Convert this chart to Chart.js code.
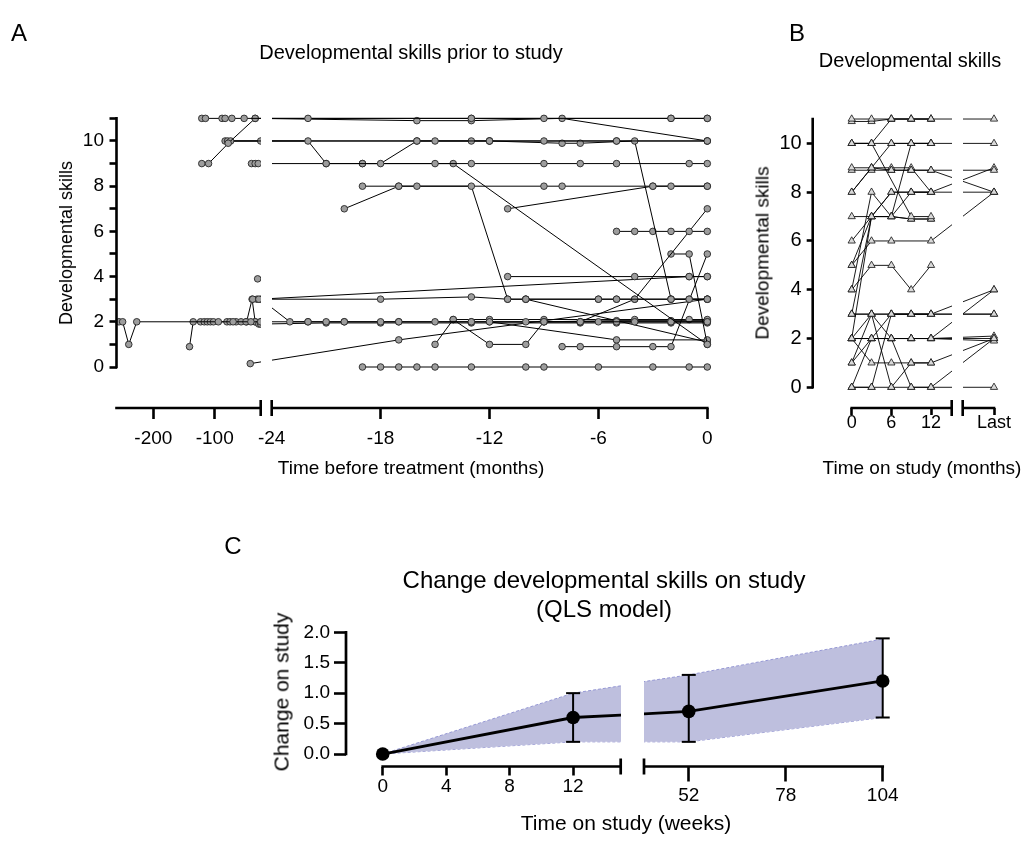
<!DOCTYPE html>
<html>
<head>
<meta charset="utf-8">
<script src="https://cdn.jsdelivr.net/npm/chart.js"></script>
<style>
  body { margin: 0; background: #fff; }
  #fig { position: relative; width: 1029px; height: 843px; overflow: hidden;
         font-family: 'Liberation Sans', Arial, sans-serif; color: #000; }
  #fig canvas { position: absolute; left: 0; top: 0; }
  .t { position: absolute; white-space: nowrap; line-height: 1; transform: translate(-50%, -50%); }
  .v { transform: translate(-50%, -50%) rotate(-90deg); }
</style>
</head>
<body>
<div id="fig">
  <canvas id="chartA" width="1029" height="843"></canvas>
  <canvas id="chartB" width="1029" height="843"></canvas>
  <canvas id="chartC" width="1029" height="843"></canvas>

  <div class="t" style="left:19px;top:33px;font-size:24px">A</div>
  <div class="t" style="left:411px;top:52px;font-size:20px">Developmental skills prior to study</div>
  <div class="t v" style="left:66px;top:243px;font-size:18px">Developmental skills</div>
  <div class="t" style="left:411px;top:467px;font-size:19px">Time before treatment (months)</div>

  <div class="t" style="left:797px;top:33px;font-size:24px">B</div>
  <div class="t" style="left:910px;top:60px;font-size:20px">Developmental skills</div>
  <div class="t v" style="left:762px;top:253px;font-size:19px">Developmental skills</div>
  <div class="t" style="left:922px;top:467px;font-size:19px">Time on study (months)</div>

  <div class="t" style="left:233px;top:546px;font-size:24px">C</div>
  <div class="t" style="left:604px;top:580px;font-size:24px">Change developmental skills on study</div>
  <div class="t" style="left:604px;top:609px;font-size:24px">(QLS model)</div>
  <div class="t v" style="left:281px;top:692px;font-size:21px">Change on study</div>
  <div class="t" style="left:626px;top:822px;font-size:21px">Time on study (weeks)</div>
</div>

<script>
// ---- Panel A: skills before treatment, one row per patient (months, skill) ----
const priorMonths = [
  [-121, -115, -88, -83, -72, -52, -22, -13, -9, -2, 0],
  [-78, -34, -16, -13, -8, 0],
  [-34, -13, -2, 0],
  [-121, -110, -74, -22, -21, -18, -16, -15, -12, -9, -5, 0],
  [-79, -25, -13, -12, -8, -7, -4, -2, -1, 0],
  [-83, -16, -12, -5, 0],
  [-40, -34, -29, -21, -19, -15, -13, -9, -7, -5, -1, 0],
  [-19, -14, 0],
  [-19, -17, -16, -13, -11, -10, -6, -5, -2, 0],
  [-20, -17, -9, -8, -3, -2, 0],
  [-11, -3, 0],
  [-5, -4, -3, -2, -1, 0],
  [-9, -7, -4, 0],
  [-2, -1, 0],
  [-8, -7, -5, -3, -2, 0],
  [-11, -4, -1, 0],
  [-38, -28, -1, 0],
  [-31, -18, -13, -11, -10, -6, -5, -4, -2, -1, 0],
  [-25, -23, -22, -21, -20, -18, -17, -15, -13, -12, -10, -9, -7, -6, -4, -2, 0],
  [-256, -250, -240, -227, -94, -70, -41, -25, -22, -20, -17, -13, -7, -5, -2, 0],
  [-141, -135, -123, -117, -112, -107, -102, -80, -75, -65, -57, -49, -34, -28, -25, -21, -18, -13, -7, -5, -2, 0],
  [-48, -39, -34, -25],
  [-30],
  [-42, -17, 0],
  [-19, -18, -17, -16, -15, -13, -10, -9, -6, -3, -1, 0],
  [-15, -14, -12, -9, -4, -1, 0],
  [-14, -12, -10, -9, -5, -2, 0],
  [-12, -5, 0],
  [-10, 0]
];
const priorSkills = [
  [11, 11, 11, 11, 11, 11, 11, 11, 11, 11, 11],
  [9.9, 11, 10.9, 10.9, 11, 10],
  [11, 11, 11, 11],
  [9, 9, 10, 10, 9, 9, 10, 10, 10, 10, 10, 10],
  [10, 10, 10, 10, 9.9, 9.9, 10, 3, 3, 3],
  [10, 10, 10, 10, 10],
  [9, 9, 9, 9, 9, 9, 9, 9, 9, 9, 9, 9],
  [9, 9, 1],
  [8, 8, 8, 8, 3, 3, 3, 3, 3, 3],
  [7, 8, 8, 8, 8, 8, 8],
  [7, 8, 8],
  [6, 6, 6, 6, 6, 6],
  [2, 2, 3, 7],
  [5, 5, 1],
  [0.9, 0.9, 0.9, 0.9, 0.9, 5],
  [4, 4, 4, 4],
  [3, 3, 4, 4],
  [3, 3, 3.1, 3, 3, 3, 3, 3, 3, 3, 3],
  [3, 2, 2, 2, 2, 2, 2, 2, 2, 2, 2, 2, 2, 2, 2, 2, 2],
  [2, 2, 1, 2, 2, 2, 2, 2, 2, 2, 2, 2, 2, 2, 2, 2],
  [0.9, 2, 2, 2, 2, 2, 2, 2, 2, 2, 2, 2, 2, 1.9, 1.9, 1.95, 1.95, 1.95, 1.95, 1.95, 1.95, 1.95],
  [2, 3, 2, 2],
  [3.9],
  [0.15, 1.2, 3],
  [0, 0, 0, 0, 0, 0, 0, 0, 0, 0, 0, 0],
  [1, 2.1, 2.1, 2.1, 2.1, 2.1, 2.1],
  [2.1, 1, 1, 2, 2.05, 2.05, 2.05],
  [2, 1.2, 1.2],
  [3, 1.1]
];
const priorTicks = [-200, -100, -24, -18, -12, -6, 0];
const skillTicks = [0, 1, 2, 3, 4, 5, 6, 7, 8, 9, 10, 11];

// ---- Panel B: skills on study (visits at 0, 3, 6, 9, 12 months and last visit) ----
const LAST = 24; // axis position of the "Last" visit column
const studyMonths = [0, 3, 6, 9, 12, LAST];
const studySkills = [
  [11, 11, 11, 11, 11, 11],
  [10.9, 10.9, 11, 11, 11, null],
  [10, 10, 11, 11, 11, null],
  [10, 10, 10, 10, 10, 10],
  [10, 10, null, 7, 7, null],
  [8, 9, 10, 10, 10, null],
  [9, 9, 8.9, 8.9, 8.9, 8.9],
  [8.9, 8.9, 8.9, 8.9, 8.9, 8],
  [8, 9, 9, 9, 8, 9],
  [7, 7, 7, 6.9, 6.9, null],
  [6, 7, 8, 8, 8, 8],
  [5, 7, 7, 10, 10, null],
  [4, 8, 7, 6.9, 6.9, null],
  [5, 6, 6, null, 6, 8],
  [4, 5, 5, 4, 5, null],
  [2, 7, 8, 8, 8, null],
  [3, 7, 7, 8, 8, null],
  [3, 3, 3, 3, 3, 3],
  [3, 3, 3, 3, 3, 4],
  [2, 2, 2, 2, 2, 2],
  [2, 2, 2, 2, 2, 1.9],
  [2, 2, 3, 3, 3, 3],
  [1, 3, 0, 1, 1, 2],
  [0, 0, 3, 3, 3, null],
  [0, 0, 0, 0, 0, 0],
  [2, 1, 1, 1, 1, null],
  [2, 3, 2, 2, 2, 4],
  [0, 2, 2, 0, 0, 2],
  [1, 2, 2, 2, 2, 2.1]
];
const studyTicks = [0, 6, 12, LAST];

// ---- Panel C: modelled change on study ----
const fitWeeks = [0, 12, 15, 40, 52, 104];
const fitMean  = [0, 0.6, 0.64, 0.66, 0.7, 1.2];
const fitUpper = [0, 1.0, 1.12, 1.19, 1.3, 1.89];
const fitLower = [0, 0.2, 0.2, 0.2, 0.2, 0.6];
const obsWeeks = [0, 12, 52, 104];
const obsMean  = [0, 0.6, 0.7, 1.2];
const obsLow   = [null, 0.2, 0.2, 0.6];
const obsHigh  = [null, 1.0, 1.3, 1.9];
const weekTicksLeft = [0, 4, 8, 12];
const weekTicksRight = [52, 78, 104];
const changeTicks = [0, 0.5, 1, 1.5, 2];

Chart.defaults.font.family = "'Liberation Sans', Arial, sans-serif";
Chart.defaults.color = '#000';

// linear scale with a break: piecewise mapping given by knots [value, fraction of axis]
const LinearScale = Chart.registry.getScale('linear');
class BrokenScale extends LinearScale {
  getPixelForValue(value) {
    if (value === null || value === undefined || isNaN(value)) return NaN;
    const k = this.options.knots;
    let i = 0;
    while (i < k.length - 2 && value > k[i + 1][0]) i++;
    const a = k[i], b = k[i + 1];
    return this.getPixelForDecimal(a[1] + (value - a[0]) * (b[1] - a[1]) / (b[0] - a[0]));
  }
  getValueForPixel(pixel) {
    const f = this.getDecimalForPixel(pixel), k = this.options.knots;
    let i = 0;
    while (i < k.length - 2 && f > k[i + 1][1]) i++;
    const a = k[i], b = k[i + 1];
    return a[0] + (f - a[1]) * (b[0] - a[0]) / (b[1] - a[1]);
  }
  // labels may sit outside a zero-height box (stacked tick rows)
  _computeLabelArea() { return undefined; }
}
BrokenScale.id = 'broken';
BrokenScale.defaults = LinearScale.defaults;
Chart.register(BrokenScale);

function knots(left, right, pairs) {
  return pairs.map(p => [p[0], (p[1] - left) / (right - left)]);
}

// prism-style axes: partial axis lines, break caps, cleared gap
const brokenAxes = {
  id: 'brokenAxes',
  afterDatasetsDraw(chart, args, o) {
    const ctx = chart.ctx, a = chart.chartArea, x = chart.scales.x, y = chart.scales.y;
    ctx.save();
    o.gaps.forEach(g => {
      const l = x.getPixelForValue(g[0]), r = x.getPixelForValue(g[1]);
      ctx.clearRect(l, a.top - 20, r - l, a.bottom - a.top + 40);
    });
    ctx.strokeStyle = '#000';
    ctx.lineWidth = o.width;
    ctx.beginPath();
    ctx.moveTo(a.left, y.getPixelForValue(o.yRange[0]) + o.width / 2);
    ctx.lineTo(a.left, y.getPixelForValue(o.yRange[1]) - o.width / 2);
    o.xParts.forEach(p => {
      ctx.moveTo(x.getPixelForValue(p[0]) - o.width / 2, a.bottom);
      ctx.lineTo(x.getPixelForValue(p[1]) + o.width / 2, a.bottom);
    });
    o.caps.forEach(v => {
      const px = x.getPixelForValue(v);
      ctx.moveTo(px, a.bottom - 8);
      ctx.lineTo(px, a.bottom + 8);
    });
    ctx.stroke();
    ctx.restore();
  }
};

function tickGrid(len, hide) {
  return {
    display: true, drawOnChartArea: false, drawTicks: true, tickLength: len, tickWidth: 2.6,
    tickColor: c => (hide !== undefined && c.tick && c.tick.value === hide) ? 'rgba(0,0,0,0)' : '#000'
  };
}
const fixed = v => s => s.ticks = v.map(t => ({value: t}));

// ---------------- Panel A ----------------
new Chart(document.getElementById('chartA'), {
  type: 'line',
  data: {
    datasets: priorMonths.map((ms, i) => ({
      data: ms.map((m, j) => ({x: m, y: priorSkills[i][j]})),
      borderColor: '#000', borderWidth: 1, clip: false,
      pointRadius: 3.3, pointBackgroundColor: '#9d9d9d', pointBorderColor: '#262626', pointBorderWidth: 0.9
    }))
  },
  options: {
    responsive: false, animation: false, events: [],
    layout: { autoPadding: false, padding: { left: 56.5, top: 111.6, right: 317, bottom: 375 } },
    plugins: {
      legend: { display: false }, tooltip: { enabled: false },
      brokenAxes: { gaps: [[-25, -24]], xParts: [[-260, -25], [-24, 0]], caps: [-25, -24], yRange: [0, 11], width: 2.6 }
    },
    scales: {
      x: {
        type: 'broken', min: -260, max: 0,
        knots: knots(116.5, 712, [[-260, 116.5], [-25, 260.7], [-24, 271.7], [0, 707.3]]),
        afterBuildTicks: fixed(priorTicks), afterFit: s => { s.height = 60; },
        border: { display: false }, grid: tickGrid(11, -24),
        ticks: { autoSkip: false, maxRotation: 0, padding: 8, font: { size: 19 }, callback: v => `${v}` }
      },
      y: {
        min: -1.814, max: 11.3,
        afterBuildTicks: fixed(skillTicks), afterFit: s => { s.width = 60; },
        border: { display: false }, grid: tickGrid(7),
        ticks: { padding: 5.5, font: { size: 19 }, callback: v => v % 2 === 0 ? `${v}` : '' }
      }
    }
  },
  plugins: [brokenAxes]
});

// ---------------- Panel B ----------------
new Chart(document.getElementById('chartB'), {
  type: 'line',
  data: {
    datasets: studySkills.map(row => ({
      data: studyMonths.map((m, j) => ({x: m, y: row[j]})),
      spanGaps: true, borderColor: '#000', borderWidth: 0.9, clip: false,
      pointStyle: 'triangle', pointRadius: 4.2, pointBackgroundColor: '#d9d9d9',
      pointBorderColor: '#111', pointBorderWidth: 0.8
    }))
  },
  options: {
    responsive: false, animation: false, events: [],
    layout: { autoPadding: false, padding: { left: 752.7, top: 111.7, right: 29, bottom: 375 } },
    plugins: {
      legend: { display: false }, tooltip: { enabled: false },
      brokenAxes: { gaps: [[15.13, 20]], xParts: [[0, 15.13], [20, LAST]], caps: [15.13, 20], yRange: [0, 11], width: 2.6 }
    },
    scales: {
      x: {
        type: 'broken', min: 0, max: LAST,
        knots: knots(812.7, 1000, [[0, 851.7], [15.13, 951.7], [20, 962.7], [LAST, 994]]),
        afterBuildTicks: fixed(studyTicks), afterFit: s => { s.height = 60; },
        border: { display: false }, grid: tickGrid(7),
        ticks: { autoSkip: false, maxRotation: 0, padding: -3, font: { size: 18 },
                 callback: v => v === LAST ? 'Last' : `${v}` }
      },
      y: {
        min: -0.849, max: 11.3,
        afterBuildTicks: fixed(skillTicks), afterFit: s => { s.width = 60; },
        border: { display: false }, grid: tickGrid(6),
        ticks: { padding: 5, font: { size: 20 }, callback: v => v % 2 === 0 ? `${v}` : '' }
      }
    }
  },
  plugins: [brokenAxes]
});

// ---------------- Panel C ----------------
const cKnots = knots(346, 895, [[0, 382.7], [15, 620.7], [40, 644], [104, 882.7]]);
const errorBars = obsWeeks.map((w, i) => obsLow[i] === null ? null : {
  data: [{x: w, y: obsLow[i]}, {x: w, y: obsHigh[i]}],
  borderColor: '#000', borderWidth: 2, clip: false,
  pointStyle: 'line', pointRadius: 7, pointBorderColor: '#000', pointBorderWidth: 2
}).filter(Boolean);

new Chart(document.getElementById('chartC'), {
  type: 'line',
  data: {
    datasets: [
      {
        data: obsWeeks.map((w, i) => ({x: w, y: obsMean[i]})),
        showLine: false, clip: false,
        pointRadius: 6.8, pointBackgroundColor: '#000', pointBorderColor: '#000', pointBorderWidth: 0
      },
      ...errorBars,
      {
        data: fitWeeks.map((w, i) => ({x: w, y: fitMean[i]})),
        borderColor: '#000', borderWidth: 2.8, pointRadius: 0, clip: false
      },
      {
        data: fitWeeks.map((w, i) => ({x: w, y: fitUpper[i]})),
        fill: '+1', backgroundColor: 'rgb(190,191,222)',
        borderColor: 'rgb(150,152,212)', borderWidth: 1, borderDash: [3, 2], pointRadius: 0, clip: false
      },
      {
        data: fitWeeks.map((w, i) => ({x: w, y: fitLower[i]})),
        fill: false,
        borderColor: 'rgb(150,152,212)', borderWidth: 1, borderDash: [3, 2], pointRadius: 0, clip: false
      }
    ]
  },
  options: {
    responsive: false, animation: false, events: [],
    layout: { autoPadding: false, padding: { left: 286, top: 626.2, right: 134, bottom: 26.5 } },
    plugins: {
      legend: { display: false }, tooltip: { enabled: false },
      brokenAxes: { gaps: [[15, 40]], xParts: [[0, 15], [40, 104]], caps: [15, 40], yRange: [0, 2], width: 2.7 }
    },
    scales: {
      x: {
        type: 'broken', min: 0, max: 104, knots: cKnots,
        afterBuildTicks: fixed(weekTicksLeft), afterFit: s => { s.height = 0; },
        border: { display: false }, grid: tickGrid(9),
        ticks: { autoSkip: false, maxRotation: 0, padding: 0, font: { size: 19 }, callback: v => `${v}` }
      },
      x2: {
        type: 'broken', position: 'bottom', weight: 1, min: 0, max: 104, knots: cKnots,
        afterBuildTicks: fixed(weekTicksRight), afterFit: s => { s.height = 50; },
        border: { display: false }, grid: tickGrid(15),
        ticks: { autoSkip: false, maxRotation: 0, padding: 3, font: { size: 19 }, callback: v => `${v}` }
      },
      y: {
        min: -0.205, max: 2.1,
        afterBuildTicks: fixed(changeTicks), afterFit: s => { s.width = 60; },
        border: { display: false }, grid: tickGrid(12),
        ticks: { padding: 4, font: { size: 19 }, callback: v => v.toFixed(1) }
      }
    }
  },
  plugins: [brokenAxes]
});
</script>
</body>
</html>
